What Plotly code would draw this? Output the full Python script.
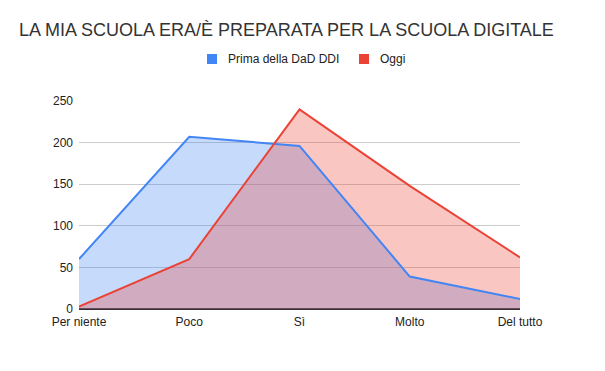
import plotly.graph_objects as go

categories = ["Per niente", "Poco", "Sì", "Molto", "Del tutto"]
prima = [60, 207, 196, 39, 12]
oggi = [3, 60, 240, 148, 62]
series_names = ["Prima della DaD DDI", "Oggi"]
y_ticks = [0, 50, 100, 150, 200, 250]

blue = "#4285F4"
red = "#EA4335"
FONT = "Arial, Liberation Sans, sans-serif"

# page offset (browser body margin)
OFF = 8
W, H = 605, 371
PL, PR, PT, PB = 79 - OFF, 520 - OFF, 101 - OFF, 309 - OFF  # plot box in figure px


def px(xp):
    return (xp - OFF - PL) / (PR - PL)


def py(yp):
    return (PB - (yp - OFF)) / (PB - PT)


series = [
    (series_names[0], prima, blue, "rgba(66,133,244,0.30)"),
    (series_names[1], oggi, red, "rgba(234,67,53,0.30)"),
]

fig = go.Figure()
# fills first
for name, vals, col, fillc in series:
    fig.add_trace(go.Scatter(x=categories, y=vals, mode="lines", fill="tozeroy",
                             fillcolor=fillc, line=dict(color=col, width=0),
                             name=name, showlegend=False, hoverinfo="skip"))
# lines on top of all fills
for name, vals, col, fillc in series:
    fig.add_trace(go.Scatter(x=categories, y=vals, mode="lines",
                             line=dict(color=col, width=2),
                             name=name, showlegend=False, hoverinfo="x+y"))

# custom legend
shapes = []
annotations = []
for (x0, x1, tx), name, col in [((207, 217, 226), series_names[0], blue),
                                 ((359, 369, 378), series_names[1], red)]:
    shapes.append(dict(type="rect", xref="paper", yref="paper",
                       x0=px(x0), x1=px(x1), y0=py(64), y1=py(54),
                       fillcolor=col, line=dict(width=0)))
    annotations.append(dict(text=name, xref="paper", yref="paper",
                            x=px(tx), y=py(59), xanchor="left", yanchor="middle",
                            showarrow=False, font=dict(family=FONT, size=12, color="#222")))

fig.update_layout(
    width=W, height=H,
    margin=dict(l=PL, r=W - PR, t=PT, b=H - PB),
    paper_bgcolor="white", plot_bgcolor="white",
    font=dict(family=FONT, size=12, color="#222"),
    title=dict(text="LA MIA SCUOLA ERA/È PREPARATA PER LA SCUOLA DIGITALE",
               x=(19 - OFF) / W, xanchor="left", y=1 - (30 - OFF) / H, yanchor="middle",
               font=dict(family=FONT, size=18, color="#333")),
    showlegend=False,
    shapes=shapes,
    annotations=annotations,
    xaxis=dict(range=[0, 4], showgrid=False, ticks="", showline=False,
               zeroline=False, automargin=False, ticklabelstandoff=4,
               tickfont=dict(size=12, color="#222")),
    yaxis=dict(range=[0, 250], tickvals=y_ticks, gridcolor="#cccccc",
               zeroline=True, zerolinecolor="#333", zerolinewidth=1.5,
               automargin=False, ticks="", showline=False, ticklabelstandoff=5,
               tickfont=dict(size=12, color="#222")),
)
fig.write_html("out.html")
